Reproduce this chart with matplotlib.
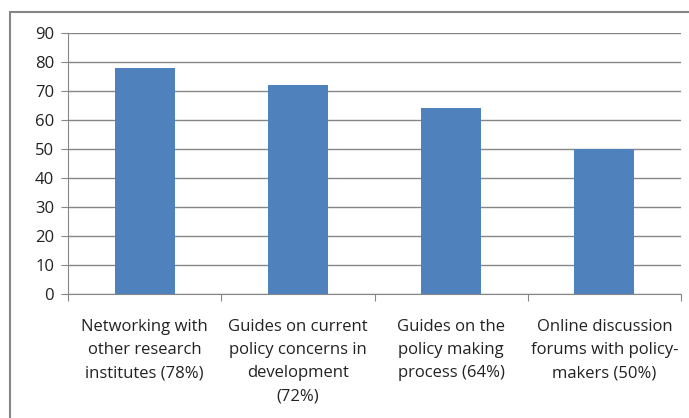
import matplotlib
matplotlib.use('Agg')
import matplotlib.pyplot as plt
from matplotlib.patches import Rectangle

categories = ['Networking with\nother research\ninstitutes (78%)',
              'Guides on current\npolicy concerns in\ndevelopment\n(72%)',
              'Guides on the\npolicy making\nprocess (64%)',
              'Online discussion\nforums with policy-\nmakers (50%)']
values = [78, 72, 64, 50]
yticks = [0, 10, 20, 30, 40, 50, 60, 70, 80, 90]

plt.rcParams['font.family'] = ['Open Sans', 'DejaVu Sans']

fig = plt.figure(figsize=(6.89, 4.18), dpi=100)
ax = fig.add_axes([68/689, 1-294/418, 613/689, 261/418])

# outer chart frame
fig.patches.append(Rectangle((10/689, -0.1), 1.2, 1-12/418+0.1, transform=fig.transFigure,
                             fill=False, edgecolor='#868686', linewidth=1.5))

x = range(len(values))
ax.bar(x, values, width=0.39, color='#4F81BD', zorder=3)
ax.set_xlim(-0.5, len(values)-0.5)
ax.set_ylim(0, 90)
ax.set_yticks(yticks)
ax.yaxis.grid(True, color='#868686', linewidth=1, zorder=0)

for s in ['top', 'right']:
    ax.spines[s].set_visible(False)
ax.spines['left'].set_color('#868686')
ax.spines['bottom'].set_color('#868686')

ax.set_xticks([i - 0.5 for i in range(len(values)+1)], minor=False)
ax.set_xticklabels([])
ax.set_xticks(list(x), minor=True)
ax.set_xticklabels(categories, minor=True, fontsize=12, linespacing=1.6, va='top',
                   color='#222222')
ax.tick_params(axis='x', which='major', length=5, color='#868686')
ax.tick_params(axis='x', which='minor', length=0, pad=18)
ax.tick_params(axis='y', length=5, color='#868686', labelsize=12, pad=5, labelcolor='#222222')

fig.savefig('out.png', dpi=100)
